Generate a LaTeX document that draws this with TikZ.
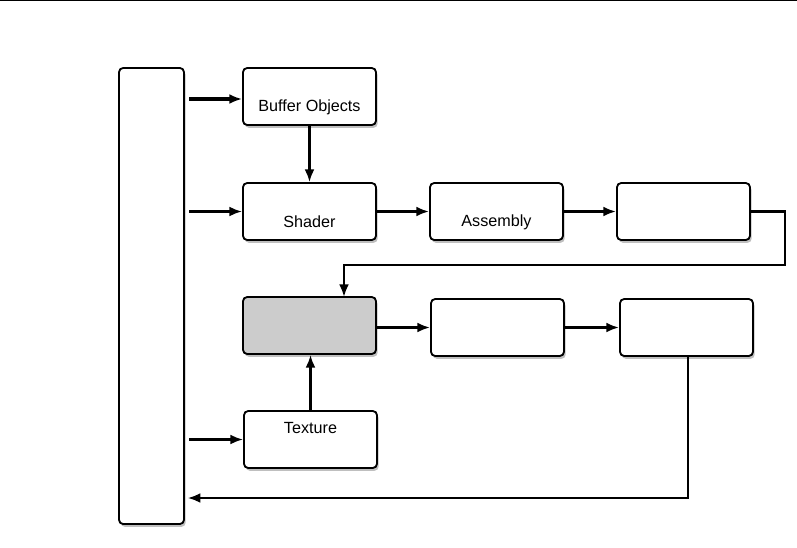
\documentclass[tikz,border=0pt]{standalone}
\usepackage{fontspec}
\setmainfont{Liberation Sans}
\usetikzlibrary{shadows, arrows.meta}

\begin{document}
\begin{tikzpicture}[x=0.025cm, y=-0.025cm,
		stage/.style={draw, line width=1.3pt, rounded corners=3pt, fill=white,
			drop shadow={opacity=0.5, shadow xshift=1.2pt, shadow yshift=-2pt},
			minimum width=3.325cm, minimum height=1.425cm, inner sep=0pt},
		caption/.style={inner sep=0pt, font=\fontsize{11.5}{14}\selectfont},
		flow/.style={-{Latex[length=9pt, width=7pt]}, line width=1.6pt},
		bold flow/.style={flow, line width=2.5pt}]
	\useasboundingbox (0,0) rectangle (797,547);

	% header rule
	\draw[line width=1pt] (0,0.5) -- (797,0.5);

	% application box
	\node[stage, minimum width=1.625cm, minimum height=11.4cm] (app) at (151.5,296) {};

	% first row
	\node[stage] (buffer) at (309.5,96.5) {};
	\node[caption] (buffertext) at (309.5,107) {Buffer Objects};
	\node[stage] (shader) at (309.5,211.5) {};
	\node[caption] (shadertext) at (309.5,222) {Shader};
	\node[stage] (assembly) at (496.5,211.5) {};
	\node[caption] (assemblytext) at (496.5,222) {Assembly};
	\node[stage] (raster) at (683.5,211.5) {};

	% second row
	\node[stage, fill=black!20] (fragment) at (309.5,325.5) {};
	\node[stage] (tests) at (497.5,327.5) {};
	\node[stage] (framebuffer) at (686.5,327.5) {};

	% textures
	\node[stage] (texture) at (310.5,439.5) {};
	\node[caption] (texturetext) at (310.5,428) {Texture};

	\coordinate (turn) at (785,265);
	\coordinate (entry) at (344,297);
	\coordinate (back) at (688,498);

	\begin{scope}[shorten <=3pt]
		\draw[bold flow] (app.east |- 0,99) -- (buffer.west |- 0,99);
		\draw[flow] (app.east |- shader) -- (shader.west);
		\draw[flow] (app.east |- texture) -- (texture.west);
	\end{scope}

	\draw[flow] (buffer) -- (shader);
	\draw[bold flow] (shader) -- (assembly);
	\draw[bold flow] (assembly) -- (raster);
	\draw[flow] (raster.east) -| (turn) -| (entry);
	\draw[bold flow] (fragment.east |- tests) -- (tests.west);
	\draw[bold flow] (tests) -- (framebuffer);
	\draw[flow] (texture.north) -- (texture.north |- fragment.south);
	\draw[flow, shorten >=2pt] (framebuffer.south -| back) -- (back) -- (app.east |- back);
\end{tikzpicture}
\end{document}
